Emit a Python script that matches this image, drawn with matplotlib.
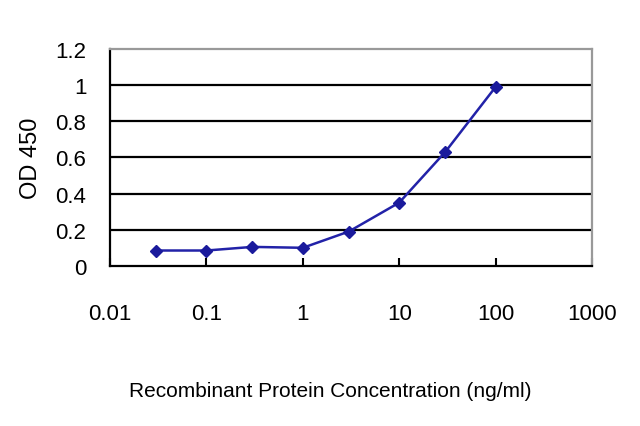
import matplotlib
matplotlib.use("Agg")
import matplotlib.pyplot as plt
from matplotlib.ticker import FixedLocator, FixedFormatter

conc = [0.03, 0.1, 0.3, 1, 3, 10, 30, 100]
od = [0.085, 0.085, 0.105, 0.10, 0.19, 0.35, 0.63, 0.99]
xticks = [0.01, 0.1, 1, 10, 100, 1000]
xticklabels = ["0.01", "0.1", "1", "10", "100", "1000"]
yticks = [0, 0.2, 0.4, 0.6, 0.8, 1.0, 1.2]
yticklabels = ["0", "0.2", "0.4", "0.6", "0.8", "1", "1.2"]

plt.rcParams['font.family'] = ['Liberation Sans', 'DejaVu Sans']
fig = plt.figure(figsize=(6.4, 4.27), dpi=100)
ax = fig.add_axes([0.172, 0.375, 0.753, 0.508])

for y in yticks[1:-1]:
    ax.axhline(y, color='black', lw=1.6, zorder=1)

ax.plot(conc, od, color='#2222a8', lw=1.8, marker='D', markersize=6.5,
        markerfacecolor='#1a1a9c', markeredgecolor='#1a1a9c', zorder=3)

ax.set_xscale('log')
ax.set_xlim(0.01, 1000)
ax.set_ylim(0, 1.2)
ax.xaxis.set_major_locator(FixedLocator(xticks))
ax.xaxis.set_major_formatter(FixedFormatter(xticklabels))
ax.xaxis.set_minor_locator(FixedLocator([]))
ax.yaxis.set_major_locator(FixedLocator(yticks))
ax.yaxis.set_major_formatter(FixedFormatter(yticklabels))

ax.tick_params(axis='x', direction='in', length=6, width=1.5, pad=27, labelsize=16)
ax.tick_params(axis='y', length=0, pad=17, labelsize=16)

for s in ['left', 'bottom']:
    ax.spines[s].set_color('black')
    ax.spines[s].set_linewidth(1.6)
for s in ['top', 'right']:
    ax.spines[s].set_color('#999999')
    ax.spines[s].set_linewidth(1.6)

ax.set_ylabel('OD 450', fontsize=17, labelpad=10)
ax.set_xlabel('Recombinant Protein Concentration (ng/ml)', fontsize=15)
ax.xaxis.set_label_coords(0.456, -0.533)

fig.savefig('out.png', dpi=100)
